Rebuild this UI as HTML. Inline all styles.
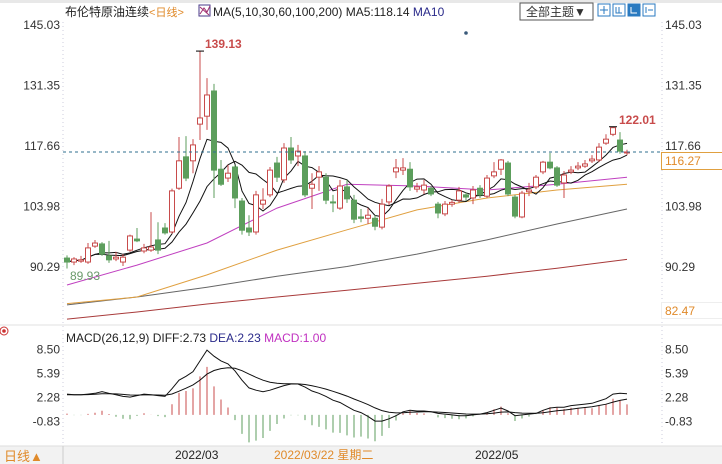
<!DOCTYPE html>
<html><head><meta charset="utf-8">
<style>
html,body{margin:0;padding:0;background:#fff;}
body{width:722px;height:464px;overflow:hidden;position:relative;font-family:"Liberation Sans","Noto Sans CJK SC",sans-serif;}
svg{position:absolute;left:0;top:0;}
text{font-family:"Liberation Sans","Noto Sans CJK SC",sans-serif;}
</style></head>
<body>
<svg id="chart" width="722" height="464" viewBox="0 0 722 464">
  <rect x="0" y="0" width="722" height="3" fill="#e8e8e8"/>
  <line x1="63" y1="22" x2="63" y2="446" stroke="#ccd" stroke-dasharray="1,3"/>
  <line x1="662" y1="22" x2="662" y2="446" stroke="#ccd" stroke-dasharray="1,3"/>
  <line x1="0" y1="325" x2="722" y2="325" stroke="#e0e0e0"/>
  <text x="65" y="16" font-size="12" fill="#222">布伦特原油连续<tspan fill="#e08a2a" font-size="11">&lt;日线&gt;</tspan></text>
  <g><rect x="199" y="5" width="11" height="11" fill="#fff" stroke="#4a3a8a"/><path d="M200 14 L204 8 L207 12 L210 6 M200 7 L209 15" stroke="#a03070" fill="none"/></g>
  <text x="213" y="16" font-size="12" fill="#222">MA(5,10,30,60,100,200) MA5:118.14 <tspan fill="#2a2a8a">MA10</tspan></text>
  <g><rect x="520" y="3" width="73" height="17" fill="#fff" stroke="#555"/><text x="526" y="16" font-size="12" fill="#333">全部主题▼</text></g>
  <g>
    <rect x="598" y="4" width="12" height="12" fill="#fff" stroke="#2a7ac0"/><path d="M604 6v8M600 10h8" stroke="#2a7ac0"/>
    <rect x="613" y="4" width="12" height="12" fill="#fff" stroke="#2a7ac0"/><path d="M616 7v6h6M619 7v6" stroke="#2a7ac0" fill="none"/>
    <rect x="628" y="4" width="12" height="12" fill="#2a7ac0" stroke="#2a7ac0"/><path d="M631 7v6h6" stroke="#fff" fill="none"/>
    <rect x="643" y="4" width="12" height="12" fill="#fff" stroke="#2a7ac0"/><path d="M646 7v6M648 10h5" stroke="#2a7ac0" fill="none"/>
  </g>
  <circle cx="466" cy="33" r="1.8" fill="#3a5a7a"/>
  <g id="axes"></g>
  <g id="mas"></g>
  <g id="candles"></g>
  <g id="macd"></g>
  <line x1="63" y1="152" x2="662" y2="152" stroke="#2f6f8f" stroke-dasharray="3,3"/>
  <g><rect x="661.5" y="152.5" width="62" height="17" fill="#fff" stroke="#e0a040"/><text x="665" y="165" font-size="12" fill="#e08a2a">116.27</text></g>
  <g><rect x="661.5" y="302.5" width="62" height="16" fill="#fff" stroke="#eee"/><text x="665" y="315" font-size="12" fill="#e08a2a">82.47</text></g>
  <text x="205" y="48" font-size="12" font-weight="bold" fill="#c84b4b">139.13</text>
  <text x="619" y="124" font-size="12" font-weight="bold" fill="#c84b4b">122.01</text>
  <text x="70" y="280" font-size="12" fill="#6a9a6a">89.93</text>
  <g><circle cx="4" cy="331" r="4" fill="none" stroke="#c33"/><circle cx="4" cy="331" r="1.8" fill="#c33"/></g>
  <text x="66" y="342" font-size="12" fill="#222">MACD(26,12,9) DIFF:2.73 <tspan fill="#2a2a8a">DEA:2.23</tspan> <tspan fill="#c030c0">MACD:1.00</tspan></text>
  <rect x="0" y="446" width="722" height="18" fill="#f2f2f2"/>
  <line x1="0" y1="446" x2="722" y2="446" stroke="#ddd"/>
  <text x="4" y="461" font-size="13" fill="#e08a2a">日线▲</text>
  <line x1="63" y1="446" x2="63" y2="464" stroke="#ccc"/>
  <text x="175" y="459" font-size="12" fill="#222">2022/03</text>
  <text x="274" y="459" font-size="12" fill="#e08a2a">2022/03/22 星期二</text>
  <text x="475" y="459" font-size="12" fill="#222">2022/05</text>
</svg>
<script>
// ---- data ----
const openP  = [92.3,91.4,91.6,91.4,95.0,95.5,92.8,92.1,91.4,94.1,96.6,93.9,94.1,96.4,99.1,98.2,108.1,115.2,114.3,122.6,124.4,130.1,112.4,110.4,112.9,105.2,99.1,98.2,104.5,106.6,113.8,110.0,117.2,115.4,115.4,108.1,110.6,110.6,105.0,103.6,108.4,105.4,101.6,101.3,101.3,99.3,105.0,111.8,112.2,112.4,107.9,107.7,108.1,104.5,102.3,104.5,105.4,106.6,105.9,108.1,106.3,110.9,112.4,113.8,106.1,101.6,107.3,108.4,111.8,114.0,112.7,109.3,111.8,112.7,113.1,114.3,114.5,118.3,120.3,119.0,116.3];
const highP  = [92.9,92.5,92.8,95.7,96.4,95.9,96.2,93.7,93.2,97.6,99.1,95.5,102.7,100.4,100.2,108.0,119.7,119.9,119.2,139.13,133.0,131.7,114.5,113.4,113.4,105.9,102.0,107.5,108.1,112.9,115.2,118.3,119.7,117.9,116.5,111.5,113.1,111.5,106.6,110.0,110.0,106.6,103.4,103.6,102.0,105.7,109.0,114.7,114.9,114.0,109.3,110.0,108.6,105.0,105.2,105.4,108.4,107.2,108.6,108.8,111.1,114.0,114.7,114.3,106.6,107.5,109.3,111.1,114.3,116.1,113.1,112.0,113.1,114.0,114.5,115.6,118.3,120.3,122.01,120.8,116.8];
const lowP   = [89.93,90.7,91.2,91.0,94.6,92.8,91.2,91.6,90.5,93.7,95.9,93.4,93.7,93.2,97.6,97.8,107.7,109.7,111.5,119.0,121.3,105.9,108.6,109.5,103.6,97.6,97.3,97.6,103.4,106.1,109.5,109.3,113.6,113.1,106.1,103.4,107.5,104.5,102.7,103.2,104.8,100.2,100.4,100.0,98.6,98.8,104.3,110.4,111.1,107.5,107.2,106.8,106.3,101.3,101.8,103.9,104.8,105.2,104.5,105.9,105.9,110.4,111.1,106.3,101.3,101.3,106.3,107.9,111.3,112.4,108.4,105.9,111.3,112.2,112.7,113.8,114.0,117.9,119.9,115.9,115.6];
const closeP = [91.4,92.1,91.9,94.6,95.7,93.2,91.9,92.5,92.5,97.3,96.2,94.6,94.8,94.1,98.0,107.5,114.3,110.4,117.9,124.0,129.2,112.2,109.0,111.5,105.9,98.6,98.2,106.6,105.4,112.2,110.6,117.2,114.5,116.5,106.6,109.0,111.8,105.4,104.8,108.6,105.7,101.1,101.3,102.0,99.5,104.5,108.6,112.7,112.7,108.4,108.4,108.8,106.8,102.5,104.5,104.9,107.5,106.1,107.7,106.6,110.4,111.8,114.5,106.8,101.8,107.0,107.7,110.6,114.0,112.7,108.8,111.1,112.2,113.1,113.6,114.7,117.4,119.2,121.8,116.5,116.3];
// long moving averages read every 10 candles (index 0,10,...,80)
const ma30Pts  = [86.2,90.7,95.7,103.6,109.0,108.6,107.7,109.0,110.6];
const ma60Pts  = [82.0,83.5,88.5,94.1,98.7,103.2,105.9,107.7,109.0];
const ma100Pts = [81.7,83.5,85.7,88.2,90.4,93.2,96.4,100.0,103.4];
const ma200Pts = [78.5,80.1,81.9,83.5,85.0,86.6,88.2,90.0,92.0];
const diffVals = [2.7,2.6,2.6,2.7,2.8,3.0,2.8,2.6,2.4,2.3,2.5,2.7,2.6,2.5,2.4,3.4,4.5,5.0,5.6,7.0,8.4,7.6,7.0,6.6,5.7,4.5,3.5,3.2,3.0,3.2,3.5,3.8,4.0,4.0,3.6,3.1,2.8,2.4,1.9,1.6,1.1,0.6,0.3,-0.2,-0.8,-0.8,-0.5,-0.1,0.4,0.6,0.5,0.5,0.4,0.2,0.1,0.0,-0.1,-0.1,0.0,0.1,0.3,0.6,0.9,0.5,-0.1,0.0,0.1,0.2,0.6,0.9,1.0,1.0,1.2,1.3,1.4,1.5,1.8,2.1,2.7,2.8,2.73];
const priceTicks = ["145.03","131.35","117.66","103.98","90.29"];
const macdTicks = ["8.50","5.39","2.28","-0.83"];

// ---- axes ----
const NS="http://www.w3.org/2000/svg";
const xOf = i => 67 + i*7;
const yP = v => 25 + (145.03 - v)*4.42;
const yM = v => 414.9 - v*7.72;
function mk(tag, attrs, parent){const e=document.createElementNS(NS,tag);for(const k in attrs)e.setAttribute(k,attrs[k]);parent.appendChild(e);return e;}
const axes=document.getElementById('axes');
priceTicks.forEach(t=>{
  const y=yP(parseFloat(t));
  const a=mk('text',{x:60,y:y+4,'font-size':12,fill:'#333','text-anchor':'end'},axes);a.textContent=t;
  
  
  const b=mk('text',{x:665,y:y+4,'font-size':12,fill:'#333'},axes);b.textContent=t;
  
  
});
macdTicks.forEach(t=>{
  const y=yM(parseFloat(t));
  const a=mk('text',{x:60,y:y+4,'font-size':12,fill:'#333','text-anchor':'end'},axes);a.textContent=t;
  
  
  const b=mk('text',{x:665,y:y+4,'font-size':12,fill:'#333'},axes);b.textContent=t;
  
  
});

// ---- moving averages ----
const mas=document.getElementById('mas');
function ma(n){return closeP.map((c,i)=>{const s=Math.max(0,i-n+1);const arr=closeP.slice(s,i+1);return arr.reduce((a,b)=>a+b,0)/arr.length;});}
function poly(pts,color,name,w){
  const l=mk('polyline',{points:pts.join(' '),fill:'none',stroke:color,'stroke-width':w||1},mas);
  
  
}
poly(ma200Pts.map((v,k)=>xOf(k*10)+','+Math.min(yP(v),326).toFixed(1)),'#a83a3a','ma200-line');
poly(ma100Pts.map((v,k)=>xOf(k*10)+','+yP(v).toFixed(1)),'#666','ma100-line');
poly(ma60Pts.map((v,k)=>xOf(k*10)+','+yP(v).toFixed(1)),'#e0a040','ma60-line');
poly(ma30Pts.map((v,k)=>xOf(k*10)+','+yP(v).toFixed(1)),'#c040c0','ma30-line');
poly(ma(10).map((v,i)=>xOf(i)+','+yP(v).toFixed(1)),'#111','ma10-line');
poly(ma(5).map((v,i)=>xOf(i)+','+yP(v).toFixed(1)),'#111','ma5-line');

// ---- candles ----
const cg=document.getElementById('candles');
closeP.forEach((c,i)=>{
  const o=openP[i],h=highP[i],l=lowP[i];const x=xOf(i);
  const up=c>=o;const col=up?'#c84b4b':'#5c9e5c';
  const g=mk('g',{},cg);
  
  
  const top=yP(Math.max(o,c)),bot=yP(Math.min(o,c));
  mk('line',{x1:x,y1:yP(h),x2:x,y2:top,stroke:col},g);
  mk('line',{x1:x,y1:bot,x2:x,y2:yP(l),stroke:col},g);
  mk('rect',{x:x-2.5,y:top,width:5,height:Math.max(1,bot-top),fill:up?'#fff':col,stroke:col},g);
});
// high markers
[19,78].forEach(i=>{const m=mk('path',{d:`M${xOf(i)-4} ${yP(highP[i])}h8`,stroke:'#000'},cg);
  
  });

// ---- MACD ----
const mg=document.getElementById('macd');
let dea=[];let d=2.6;diffVals.forEach(v=>{d=d+(v-d)*2/10;dea.push(d);});
diffVals.forEach((v,i)=>{
  const h=2*(v-dea[i]);
  const b=mk('line',{x1:xOf(i),x2:xOf(i),y1:yM(0),y2:yM(h),stroke:h>=0?'#c84b4b':'#5c9e5c','stroke-width':1},mg);
  
  
});
const dl=mk('polyline',{points:diffVals.map((v,i)=>xOf(i)+','+yM(v).toFixed(1)).join(' '),fill:'none',stroke:'#111'},mg);


const el=mk('polyline',{points:dea.map((v,i)=>xOf(i)+','+yM(v).toFixed(1)).join(' '),fill:'none',stroke:'#111'},mg);


</script>
</body></html>
